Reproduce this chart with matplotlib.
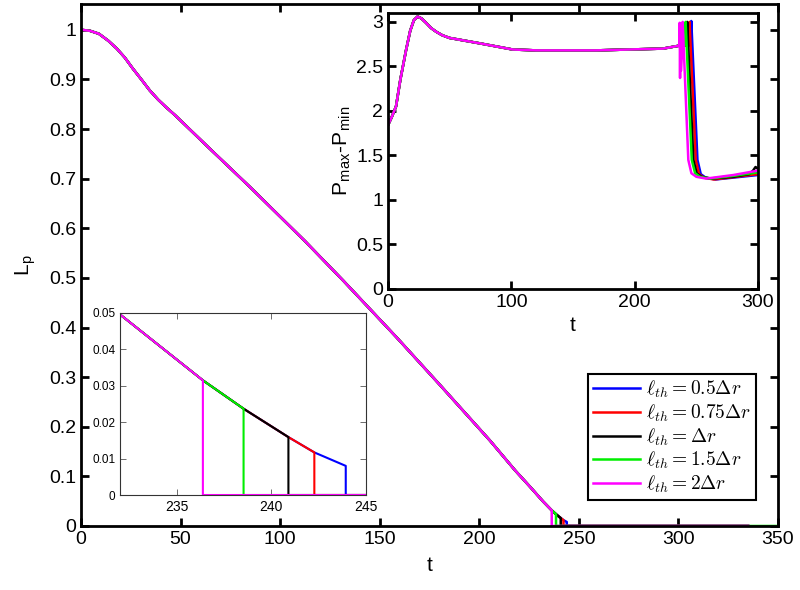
import matplotlib
matplotlib.use("Agg")
import matplotlib.pyplot as plt
from matplotlib.ticker import FormatStrFormatter

plt.rcParams['font.family'] = ['Liberation Sans', 'DejaVu Sans']
plt.rcParams['mathtext.fontset'] = 'cm'

# shared L_p curve
t_base = [0, 4.5, 9, 13.7, 18, 22, 26, 30.5, 34.5, 38.8, 43, 47.2, 64, 84.9, 112.5, 131.8,
          158.5, 180.3, 205.4, 218, 225.5, 232, 236.38, 238.53, 240.9, 242.27, 243.93]
Lp_base = [1.0, 0.998, 0.992, 0.978, 0.962, 0.944, 0.922, 0.899, 0.878, 0.859, 0.843, 0.828,
           0.763, 0.683, 0.574, 0.494, 0.380, 0.284, 0.172, 0.112, 0.079, 0.0496, 0.0315,
           0.0237, 0.0159, 0.0117, 0.0080]

labels = [r'$\ell_{th} = 0.5\Delta r$', r'$\ell_{th} = 0.75\Delta r$',
          r'$\ell_{th} = \Delta r$', r'$\ell_{th} = 1.5\Delta r$', r'$\ell_{th} = 2\Delta r$']
colors = ['blue', 'red', 'black', '#00ee00', 'magenta']
cut_t = [243.93, 242.27, 240.9, 238.53, 236.38]
end_t = [335, 335, 335, 350, 335]

# P_max - P_min
P_pre_t = [0, 3, 6.5, 10, 14.6, 18, 21, 24, 27, 30.8, 35, 39, 44, 49.8, 74, 101, 120,
           169, 223, 235]
P_pre = [1.84, 1.93, 2.05, 2.35, 2.68, 2.90, 3.02, 3.06, 3.04, 2.99, 2.93, 2.89, 2.85,
         2.82, 2.76, 2.69, 2.68, 2.68, 2.70, 2.73]
P_tail_t = [
    [245.6, 245.9, 250.9, 253.6, 257.6, 265.6, 300],
    [244.2, 244.5, 249.5, 252.2, 256.2, 264.2, 300],
    [242.3, 242.6, 247.6, 250.3, 254.3, 262.3, 280, 293, 296, 298, 300],
    [241.0, 241.3, 246.3, 249, 253, 261, 280, 300],
    [236.3, 236.5, 236.8, 237.1, 237.5, 238.6, 238.9, 243.5, 246, 250, 258, 280, 300],
]
P_tail = [
    [2.74, 3.01, 1.45, 1.29, 1.25, 1.23, 1.28],
    [2.74, 3.0, 1.45, 1.29, 1.25, 1.23, 1.29],
    [2.74, 3.0, 1.45, 1.30, 1.26, 1.24, 1.26, 1.29, 1.33, 1.37, 1.35],
    [2.74, 3.0, 1.45, 1.30, 1.26, 1.24, 1.27, 1.31],
    [2.73, 2.99, 2.37, 2.95, 2.45, 2.72, 3.0, 1.45, 1.30, 1.26, 1.24, 1.28, 1.33],
]


def lp_series(i):
    tt = [t for t in t_base if t <= cut_t[i]]
    ll = Lp_base[:len(tt)]
    return tt + [cut_t[i], end_t[i]], ll + [0, 0]


def style(ax, fs, lw):
    ax.tick_params(direction='in', top=True, right=True, labelsize=fs, width=lw, length=6)
    for s in ax.spines.values():
        s.set_linewidth(lw)


fig = plt.figure(figsize=(8, 5.9), dpi=100)
ax = fig.add_axes([0.10125, 0.1085, 0.87125, 0.8847])
for i in range(5):
    tt, ll = lp_series(i)
    ax.plot(tt, ll, color=colors[i], lw=1.8, label=labels[i])
ax.set_xlim(0, 350)
ax.set_ylim(0, 1.052)
ax.set_xticks(range(0, 351, 50))
ax.set_yticks([k / 10 for k in range(11)])
ax.yaxis.set_major_formatter(FormatStrFormatter('%g'))
style(ax, 14, 2)
ax.set_xlabel('t', fontsize=15, labelpad=6)
ax.set_ylabel(r'L$_{\mathregular{p}}$', fontsize=15, labelpad=8)
leg = ax.legend(loc='lower right', bbox_to_anchor=(0.968, 0.05), fontsize=14,
                fancybox=False, edgecolor='black', framealpha=1, handlelength=2.4,
                borderpad=0.25, labelspacing=0.12, handletextpad=0.3, borderaxespad=0)
leg.get_frame().set_linewidth(1.5)

# top right inset
ax2 = fig.add_axes([0.485, 0.5102, 0.4625, 0.4678])
for i in range(5):
    ax2.plot(P_pre_t + P_tail_t[i], P_pre + P_tail[i], color=colors[i], lw=1.8)
ax2.set_xlim(0, 300)
ax2.set_ylim(0, 3.1)
ax2.set_xticks([0, 100, 200, 300])
ax2.set_yticks([0, 0.5, 1, 1.5, 2, 2.5, 3])
ax2.yaxis.set_major_formatter(FormatStrFormatter('%g'))
style(ax2, 14, 2)
ax2.set_xlabel('t', fontsize=15, labelpad=4)
ax2.set_ylabel(r'P$_{\mathregular{max}}$-P$_{\mathregular{min}}$', fontsize=15, labelpad=2)

# bottom left inset (zoom)
ax3 = fig.add_axes([0.15, 0.161, 0.3075, 0.3085])
for i in range(5):
    tt, ll = lp_series(i)
    ax3.plot(tt, ll, color=colors[i], lw=1.5)
ax3.set_xlim(232, 245)
ax3.set_ylim(0, 0.05)
ax3.set_xticks([235, 240, 245])
ax3.set_yticks([0, 0.01, 0.02, 0.03, 0.04, 0.05])
ax3.yaxis.set_major_formatter(FormatStrFormatter('%g'))
ax3.tick_params(direction='in', top=True, right=True, length=4, width=0.6, color='#555555')
ax3.tick_params(axis='x', labelsize=10)
ax3.tick_params(axis='y', labelsize=8.5)
for s in ax3.spines.values():
    s.set_linewidth(0.8)
    s.set_color('#333333')

fig.savefig('out.png', dpi=100)
